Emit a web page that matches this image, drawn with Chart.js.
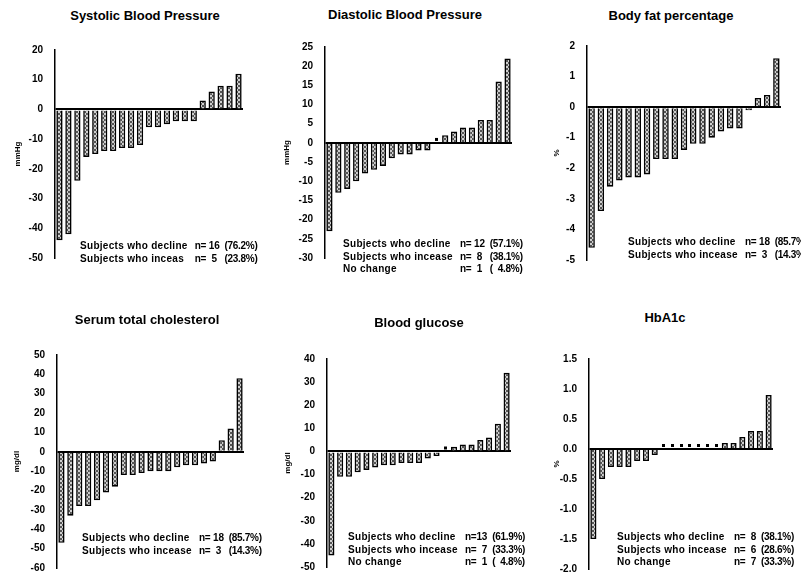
<!DOCTYPE html>
<html>
<head>
<meta charset="utf-8">
<script src="https://cdn.jsdelivr.net/npm/chart.js@4/dist/chart.umd.min.js"></script>
<style>
  body { margin: 0; background: #fff; width: 801px; height: 586px; position: relative; overflow: hidden;
         font-family: "Liberation Sans", Arial, sans-serif; color: #000; }
  canvas { position: absolute; }
  .title { position: absolute; font-weight: bold; font-size: 13px; white-space: nowrap; transform: translate(-50%, -50%); }
  .note { position: absolute; display: grid; grid-template-columns: auto auto auto; font-weight: bold;
          font-size: 10px; line-height: 12.5px; white-space: pre; }
  .note span:nth-child(3n+1) { letter-spacing: 0.3px; }
  .note span:nth-child(3n+2) { margin-left: 7px; letter-spacing: -0.2px; }
  .note span:nth-child(3n) { margin-left: 5px; letter-spacing: -0.3px; }
</style>
</head>
<body>
<script>
// 21 subjects, sorted by change
const subjects = ['1','2','3','4','5','6','7','8','9','10','11','12','13','14','15','16','17','18','19','20','21'];

const systolic    = [-44, -42, -24, -16, -15, -14, -14, -13, -13, -12, -6, -6, -5, -4, -4, -4, 3, 6, 8, 8, 12];
const diastolic   = [-23, -13, -12, -10, -8, -7, -6, -4, -3, -3, -2, -2, 0, 2, 3, 4, 4, 6, 6, 16, 22];
const bodyFat     = [-4.6, -3.4, -2.6, -2.4, -2.3, -2.3, -2.2, -1.7, -1.7, -1.7, -1.4, -1.2, -1.2, -1.0, -0.8, -0.7, -0.7, -0.1, 0.3, 0.4, 1.6];
const cholesterol = [-47, -33, -28, -28, -25, -21, -18, -12, -12, -11, -10, -10, -10, -8, -7, -7, -6, -5, 6, 12, 38];
const glucose     = [-45, -11, -11, -9, -8, -7, -6, -6, -5, -5, -5, -3, -2, 0, 2, 3, 3, 5, 6, 12, 34];
const hba1c       = [-1.5, -0.5, -0.3, -0.3, -0.3, -0.2, -0.2, -0.1, 0, 0, 0, 0, 0, 0, 0, 0.1, 0.1, 0.2, 0.3, 0.3, 0.9];

const sbpNotes  = [['Subjects who decline', 'n= 16', '(76.2%)'], ['Subjects who inceas', 'n=  5', '(23.8%)']];
const dbpNotes  = [['Subjects who decline', 'n= 12', '(57.1%)'], ['Subjects who incease', 'n=  8', '(38.1%)'], ['No change', 'n=  1', '(  4.8%)']];
const fatNotes  = [['Subjects who decline', 'n= 18', '(85.7%)'], ['Subjects who incease', 'n=  3', '(14.3%)']];
const cholNotes = [['Subjects who decline', 'n= 18', '(85.7%)'], ['Subjects who incease', 'n=  3', '(14.3%)']];
const gluNotes  = [['Subjects who decline', 'n=13', '(61.9%)'], ['Subjects who incease', 'n=  7', '(33.3%)'], ['No change', 'n=  1', '(  4.8%)']];
const hbaNotes  = [['Subjects who decline', 'n=  8', '(38.1%)'], ['Subjects who incease', 'n=  6', '(28.6%)'], ['No change', 'n=  7', '(33.3%)']];

const FONT = '"Liberation Sans", Arial, sans-serif';

// grey cross-hatch fill like the printed bars
const pc = document.createElement('canvas');
pc.width = 4; pc.height = 4;
const pg = pc.getContext('2d');
pg.fillStyle = '#cfcfcf';
pg.fillRect(0, 0, 4, 4);
pg.fillStyle = '#555';
for (let i = 0; i < 4; i++) { pg.fillRect(i, i, 1, 1); pg.fillRect(3 - i, i, 1, 1); }
const hatch = pg.createPattern(pc, 'repeat');

// small dot that sits just above the baseline, used for "no change" subjects
const dot = document.createElement('canvas');
dot.width = 3; dot.height = 12;
const dg = dot.getContext('2d');
dg.fillStyle = '#000';
dg.fillRect(0, 1, 3, 3);

const panels = [
  { title: 'Systolic Blood Pressure', unit: 'mmHg', values: systolic, notes: sbpNotes, min: -50, max: 20, step: 10, dec: 0,
    axisX: 55, right: 244, top: 42, bottom: 266, gap: 37, tx: 145, ty: 15, nx: 80, ny: 240 },
  { title: 'Diastolic Blood Pressure', unit: 'mmHg', values: diastolic, notes: dbpNotes, min: -30, max: 25, step: 5, dec: 0,
    axisX: 325, right: 513, top: 39, bottom: 266, gap: 38, tx: 405, ty: 14, nx: 343, ny: 238 },
  { title: 'Body fat percentage', unit: '%', values: bodyFat, notes: fatNotes, min: -5, max: 2, step: 1, dec: 0,
    axisX: 587, right: 782, top: 38, bottom: 268, gap: 30, tx: 671, ty: 15, nx: 628, ny: 236 },
  { title: 'Serum total cholesterol', unit: 'mg/dl', values: cholesterol, notes: cholNotes, min: -60, max: 50, step: 10, dec: 0,
    axisX: 57, right: 245, top: 347, bottom: 576, gap: 40, tx: 147, ty: 319, nx: 82, ny: 532 },
  { title: 'Blood glucose', unit: 'mg/dl', values: glucose, notes: gluNotes, min: -50, max: 40, step: 10, dec: 0,
    axisX: 327, right: 512, top: 351, bottom: 575, gap: 39, tx: 419, ty: 322, nx: 348, ny: 531 },
  { title: 'HbA1c', unit: '%', values: hba1c, notes: hbaNotes, min: -2, max: 1.5, step: 0.5, dec: 1,
    axisX: 589, right: 774, top: 351, bottom: 577, gap: 32, tx: 665, ty: 317, nx: 617, ny: 531 }
];

function addText(p) {
  const t = document.createElement('div');
  t.className = 'title';
  t.style.left = p.tx + 'px';
  t.style.top = p.ty + 'px';
  t.textContent = p.title;
  document.body.appendChild(t);

  const n = document.createElement('div');
  n.className = 'note';
  n.style.left = p.nx + 'px';
  n.style.top = p.ny + 'px';
  for (const row of p.notes) {
    for (const cell of row) {
      const s = document.createElement('span');
      s.textContent = cell;
      n.appendChild(s);
    }
  }
  document.body.appendChild(n);
}

function makeChart(p) {
  const AXIS_W = 50;
  const cv = document.createElement('canvas');
  const left = p.axisX - AXIS_W;
  cv.width = p.right - left + 4;
  cv.height = p.bottom - p.top + 20;
  cv.style.left = left + 'px';
  cv.style.top = (p.top - 10) + 'px';
  document.body.appendChild(cv);

  new Chart(cv, {
    type: 'bar',
    data: {
      labels: subjects,
      datasets: [
        {
          data: p.values,
          backgroundColor: hatch,
          borderColor: '#000',
          borderWidth: 1.6,
          barPercentage: 0.7,
          categoryPercentage: 1,
          order: 2
        },
        {
          type: 'line',
          data: p.values.map(v => v === 0 ? 0 : null),
          showLine: false,
          pointStyle: dot,
          order: 1
        }
      ]
    },
    options: {
      responsive: false,
      animation: false,
      events: [],
      layout: { padding: { top: 10, bottom: 10, left: 0, right: 4 } },
      plugins: { legend: { display: false }, tooltip: { enabled: false } },
      scales: {
        x: { display: false },
        y: {
          min: p.min,
          max: p.max,
          afterFit: s => { s.width = AXIS_W; },
          ticks: {
            stepSize: p.step,
            padding: 12,
            color: '#000',
            font: { family: FONT, size: 10, weight: 'bold' },
            callback: v => (Math.abs(v) < 1e-9 ? 0 : v).toFixed(p.dec)
          },
          grid: {
            drawTicks: false,
            lineWidth: 2,
            color: c => (c.tick && Math.abs(c.tick.value) < 1e-9) ? '#000' : 'transparent'
          },
          border: { display: true, color: '#000', width: 1.5 },
          title: {
            display: true,
            text: p.unit,
            color: '#000',
            font: { family: FONT, size: 8, weight: 'bold' },
            padding: { top: AXIS_W - p.gap - 4.8, bottom: 0 }
          }
        }
      }
    }
  });
}

panels.forEach(p => { makeChart(p); addText(p); });
</script>
</body>
</html>
